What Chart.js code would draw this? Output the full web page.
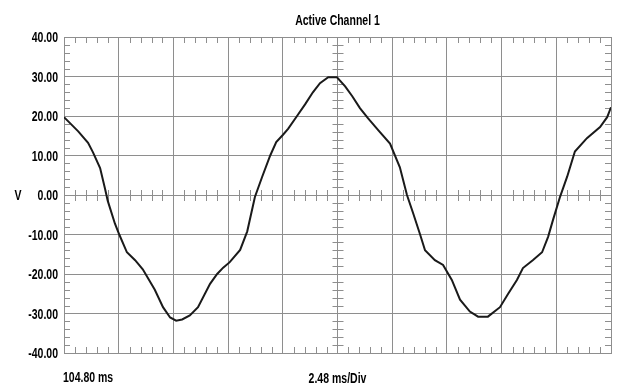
<!DOCTYPE html>
<html>
<head>
<meta charset="utf-8">
<script src="https://cdn.jsdelivr.net/npm/chart.js@4"></script>
<style>
  html, body { margin: 0; padding: 0; background: #fff; }
</style>
</head>
<body>
<canvas id="scope" width="617" height="388"></canvas>
<script>
// time axis in divisions (0..10), 2.48 ms per division starting at 104.80 ms
const divs = [0.00, 0.11, 0.26, 0.44, 0.53, 0.66, 0.75, 0.80, 0.93, 1.01, 1.15, 1.30, 1.44, 1.66, 1.81, 1.94,
  2.05, 2.16, 2.30, 2.45, 2.67, 2.80, 2.91, 3.03, 3.22, 3.35, 3.49, 3.62, 3.77, 3.88, 4.00, 4.10,
  4.26, 4.41, 4.55, 4.68, 4.83, 4.99, 5.14, 5.27, 5.41, 5.56, 5.74, 5.96, 6.14, 6.27, 6.38, 6.51,
  6.60, 6.78, 6.93, 7.09, 7.24, 7.42, 7.57, 7.75, 7.97, 8.12, 8.28, 8.39, 8.57, 8.74, 8.85, 8.94,
  9.07, 9.20, 9.34, 9.56, 9.80, 9.93, 10.00];
const volts = [19.7, 18.2, 16.1, 13.2, 10.8, 6.8, 1.6, -1.5, -7.2, -10.0, -14.5, -16.5, -18.8, -24.0, -28.4, -31.0,
  -31.8, -31.5, -30.5, -28.4, -22.5, -20.0, -18.4, -17.0, -13.9, -9.2, -0.5, 4.5, 10.0, 13.4, 15.2, 16.8,
  20.0, 23.0, 26.0, 28.3, 29.8, 29.8, 27.5, 25.0, 22.0, 19.4, 16.5, 13.0, 7.0, 0.0, -4.5, -10.0,
  -14.0, -16.5, -17.7, -21.5, -26.5, -29.5, -30.8, -30.8, -28.4, -25.0, -21.5, -18.5, -16.5, -14.5, -10.6, -6.3,
  -0.4, 4.7, 11.0, 14.4, 17.2, 19.7, 22.2];

const voltTicks = [40, 30, 20, 10, 0, -10, -20, -30, -40];
const titleText = 'Active Channel 1';
const unitLabel = 'V';
const startLabel = '104.80 ms';
const divLabel = '2.48 ms/Div';

const FONT = "bold 15px 'Liberation Sans', Arial, sans-serif";
const SQUEEZE = 0.7; // the scope software uses a very narrow face
const GRID = '#8e8e8e';

function narrowText(ctx, text, x, y, align) {
  ctx.save();
  ctx.translate(x, y);
  ctx.scale(SQUEEZE, 1);
  ctx.textAlign = align;
  ctx.fillText(text, 0, 0);
  ctx.restore();
}

// small ticks along the frame and the centre axes, 5 per division
const minorTicks = {
  id: 'minorTicks',
  beforeDatasetsDraw(chart) {
    const { ctx, chartArea: a, scales: { x, y } } = chart;
    const y0 = y.getPixelForValue(0);
    const x5 = x.getPixelForValue(5);
    ctx.save();
    ctx.strokeStyle = GRID;
    ctx.lineWidth = 1;
    ctx.beginPath();
    for (let i = 1; i < 50; i++) {
      if (i % 5 === 0) continue;
      const px = Math.round(x.getPixelForValue(i / 5)) + 0.5;
      ctx.moveTo(px, a.top); ctx.lineTo(px, a.top + 6);
      ctx.moveTo(px, a.bottom); ctx.lineTo(px, a.bottom - 6);
      ctx.moveTo(px, y0 - 5); ctx.lineTo(px, y0 + 6);
    }
    for (let v = -38; v < 40; v += 2) {
      if (v % 10 === 0) continue;
      const py = Math.round(y.getPixelForValue(v)) + 0.5;
      ctx.moveTo(a.left, py); ctx.lineTo(a.left + 6, py);
      ctx.moveTo(a.right, py); ctx.lineTo(a.right - 6, py);
      ctx.moveTo(x5 - 5, py); ctx.lineTo(x5 + 6, py);
    }
    ctx.stroke();
    ctx.restore();
  }
};

// title, volt labels, unit and time labels
const labels = {
  id: 'labels',
  afterDraw(chart) {
    const { ctx, chartArea: a, scales: { x, y } } = chart;
    ctx.save();
    ctx.fillStyle = '#000';
    ctx.font = FONT;
    ctx.textBaseline = 'alphabetic';
    narrowText(ctx, titleText, x.getPixelForValue(5), 25, 'center');
    narrowText(ctx, divLabel, x.getPixelForValue(5), 383, 'center');
    narrowText(ctx, startLabel, a.left - 1, 382, 'left');
    voltTicks.forEach(v => {
      narrowText(ctx, v.toFixed(2), a.left - 6, y.getPixelForValue(v) + 5, 'right');
    });
    narrowText(ctx, unitLabel, 18, y.getPixelForValue(0) + 5, 'center');
    ctx.restore();
  }
};

new Chart(document.getElementById('scope'), {
  type: 'line',
  data: {
    datasets: [{
      data: divs.map((d, i) => ({ x: d, y: volts[i] })),
      borderColor: '#1a1a1a',
      borderWidth: 2,
      pointRadius: 0,
      tension: 0,
      fill: false
    }]
  },
  options: {
    responsive: false,
    animation: false,
    layout: { padding: { top: 37, right: 6, bottom: 35, left: 0 } },
    plugins: { legend: { display: false }, tooltip: { enabled: false } },
    scales: {
      x: {
        type: 'linear',
        min: 0,
        max: 10,
        ticks: { display: false, stepSize: 1 },
        grid: { color: GRID, lineWidth: 1, drawTicks: false },
        border: { color: GRID, width: 1 },
        afterFit(scale) { scale.height = 0; }
      },
      y: {
        min: -40,
        max: 40,
        ticks: { display: false, stepSize: 10 },
        grid: { color: GRID, lineWidth: 1, drawTicks: false },
        border: { color: GRID, width: 1 },
        afterFit(scale) { scale.width = 64; }
      }
    }
  },
  plugins: [minorTicks, labels]
});
</script>
</body>
</html>
